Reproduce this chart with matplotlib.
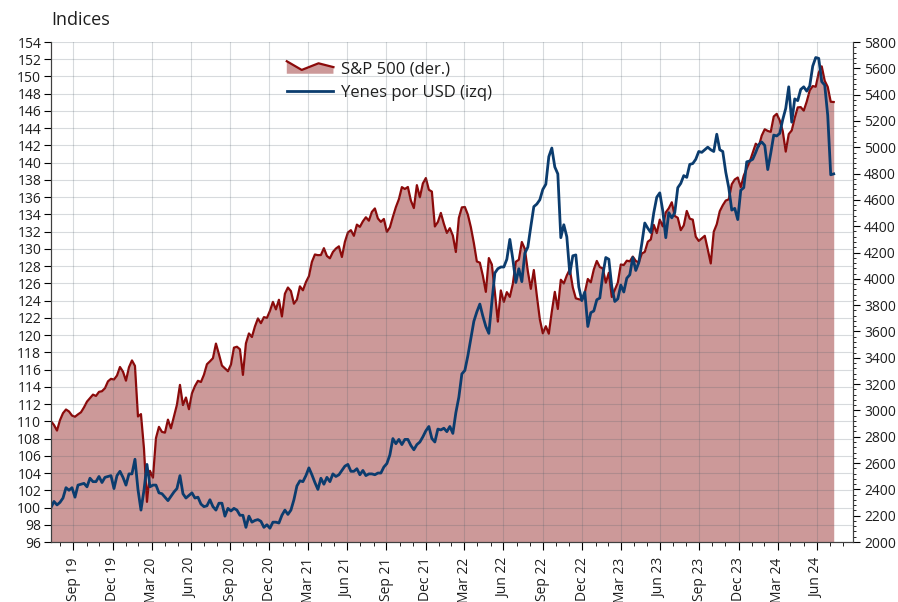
import numpy as np
import pandas as pd
import matplotlib
matplotlib.use("Agg")
import matplotlib.pyplot as plt
import matplotlib.dates as mdates
from matplotlib.ticker import MultipleLocator
from matplotlib.legend_handler import HandlerBase
from matplotlib.patches import Polygon, Patch
from matplotlib.lines import Line2D

plt.rcParams['font.family'] = ['Open Sans', 'DejaVu Sans']

# S&P 500, weekly (Friday) level, right axis
sp_2019 = [2918, 2889, 2847, 2926, 2979, 3007, 2992, 2961, 2952, 2970, 2986, 3023, 3067, 3093,
           3120, 3110, 3141, 3146, 3169, 3221, 3240]
sp_2020 = [3235, 3265, 3330, 3295, 3226, 3328, 3380, 3338, 2954, 2972, 2711, 2305, 2541, 2489,
           2790, 2875, 2837, 2831, 2930, 2864, 2955, 3044, 3194, 3041, 3098, 3009, 3130, 3185,
           3225, 3216, 3271, 3351, 3373, 3397, 3508, 3427, 3341, 3319, 3298, 3348, 3477, 3484,
           3465, 3270, 3510, 3585, 3558, 3638, 3699, 3663, 3709, 3703, 3756]
sp_2021 = [3825, 3768, 3841, 3714, 3887, 3934, 3907, 3811, 3842, 3943, 3913, 3975, 4020, 4129,
           4185, 4180, 4181, 4233, 4174, 4156, 4204, 4230, 4247, 4166, 4281, 4352, 4370, 4327,
           4412, 4395, 4437, 4468, 4442, 4509, 4535, 4459, 4433, 4455, 4357, 4391, 4471, 4545,
           4605, 4697, 4683, 4698, 4595, 4538, 4712, 4620, 4725, 4766]
sp_2022 = [4677, 4663, 4398, 4432, 4501, 4419, 4349, 4385, 4329, 4204, 4463, 4543, 4546, 4488,
           4393, 4272, 4132, 4123, 4024, 3901, 4158, 4109, 3901, 3675, 3912, 3825, 3899, 3863,
           3962, 4130, 4145, 4280, 4228, 4058, 3924, 4067, 3873, 3693, 3586, 3640, 3583, 3752,
           3901, 3771, 3993, 3965, 4026, 4072, 3934, 3852, 3845, 3840]
sp_2023 = [3895, 3999, 3973, 4071, 4136, 4090, 4079, 3970, 4046, 3862, 3917, 3971, 4109, 4105,
           4138, 4133, 4169, 4136, 4124, 4192, 4205, 4282, 4299, 4410, 4348, 4450, 4399, 4505,
           4536, 4582, 4478, 4464, 4370, 4406, 4516, 4457, 4450, 4320, 4288, 4308, 4327, 4224,
           4117, 4358, 4415, 4514, 4559, 4595, 4604, 4719, 4755, 4770]
sp_2024 = [4697, 4784, 4840, 4891, 4959, 5027, 5006, 5089, 5137, 5124, 5117, 5234, 5254, 5204,
           5123, 4967, 5100, 5128, 5223, 5303, 5305, 5278, 5347, 5432, 5465, 5460, 5567, 5615,
           5505, 5459, 5346, 5344]

# Yenes por USD, index (first week = 100), left axis
yen_2019 = [100.0, 100.7, 100.3, 100.6, 101.1, 102.3, 102.0, 102.3, 101.2, 102.6, 102.7, 102.8,
            102.4, 103.4, 103.0, 103.0, 103.6, 102.9, 103.5, 103.6, 103.7]
yen_2020 = [102.2, 103.7, 104.2, 103.5, 102.6, 103.9, 103.9, 105.6, 102.1, 99.7, 102.0, 105.0,
            102.4, 102.6, 102.6, 101.7, 101.6, 101.2, 100.8, 101.3, 101.8, 102.2, 103.7, 101.6,
            101.1, 101.4, 101.7, 101.1, 101.2, 100.4, 100.1, 100.2, 100.9, 100.1, 99.7, 100.5,
            100.5, 99.0, 99.9, 99.6, 99.9, 99.7, 99.1, 99.1, 97.7, 99.0, 98.3, 98.5, 98.6, 98.4,
            97.7, 98.0, 97.6]
yen_2021 = [98.3, 98.3, 98.2, 99.1, 99.7, 99.2, 99.7, 100.9, 102.5, 103.1, 103.0, 103.7, 104.6,
            103.8, 102.9, 102.1, 103.4, 102.7, 103.5, 103.0, 103.9, 103.6, 103.8, 104.3, 104.8,
            105.0, 104.2, 104.2, 104.5, 103.8, 104.3, 103.7, 103.9, 103.9, 103.8, 104.0, 104.0,
            104.7, 105.1, 106.1, 108.0, 107.4, 107.9, 107.3, 107.9, 107.9, 107.2, 106.7, 107.3,
            107.6, 108.2, 108.9]
yen_2022 = [109.4, 108.0, 107.6, 109.1, 109.0, 109.2, 108.8, 109.4, 108.6, 111.0, 112.8, 115.5,
            115.9, 117.6, 119.6, 121.6, 122.7, 123.6, 122.2, 121.0, 120.2, 123.8, 127.2, 127.7,
            127.9, 127.9, 128.8, 131.1, 128.8, 126.1, 127.7, 126.2, 129.5, 130.2, 132.6, 134.9,
            135.2, 135.7, 136.9, 137.5, 140.7, 141.7, 139.5, 138.7, 131.3, 132.8, 131.4, 127.1,
            129.2, 129.3, 125.6, 124.0]
yen_2023 = [125.0, 121.0, 122.6, 122.8, 124.1, 124.3, 127.0, 129.0, 128.8, 125.6, 123.9, 124.2,
            125.8, 125.0, 126.6, 127.0, 129.0, 127.5, 128.4, 130.6, 133.0, 132.4, 131.9, 134.2,
            136.0, 136.5, 134.4, 131.3, 134.2, 133.6, 134.2, 137.1, 137.6, 138.5, 138.3, 139.8,
            139.9, 140.4, 141.3, 141.2, 141.5, 141.8, 141.5, 141.3, 143.3, 141.5, 141.3, 138.9,
            137.1, 134.5, 134.7, 133.4]
yen_2024 = [136.8, 137.1, 140.1, 140.2, 140.4, 141.2, 142.1, 142.4, 142.0, 139.2, 141.1, 143.2,
            143.1, 143.4, 145.0, 146.3, 148.8, 144.7, 147.4, 147.2, 148.5, 148.8, 148.3, 148.9,
            151.2, 152.2, 152.1, 149.4, 149.0, 145.5, 138.6, 138.7]

sp500 = sp_2019 + sp_2020 + sp_2021 + sp_2022 + sp_2023 + sp_2024
yenes = yen_2019 + yen_2020 + yen_2021 + yen_2022 + yen_2023 + yen_2024
dates = pd.date_range('2019-08-09', periods=len(sp500), freq='W-FRI')

red_line = '#8B0A0A'
red_fill = '#CC9999'
blue = '#0B3C6E'
txt = '#1E1E1E'


class AreaHandler(HandlerBase):
    # little area-chart icon like the Excel legend
    def create_artists(self, legend, orig_handle, xdescent, ydescent, width, height, fontsize, trans):
        xs = np.array([0.0, 0.32, 0.68, 1.0]) * width - xdescent
        ys = np.array([0.98, 0.30, 0.82, 0.52]) * height - ydescent
        poly = np.column_stack([np.r_[xs, xs[-1], xs[0]], np.r_[ys, -ydescent, -ydescent]])
        area = Polygon(poly, closed=True, facecolor=red_fill, edgecolor='none', transform=trans)
        edge = Line2D(xs, ys, color=red_line, lw=1.6, transform=trans)
        return [area, edge]


fig = plt.figure(figsize=(8.98, 6.02), dpi=100)
ax = fig.add_axes([51 / 898, 60 / 602, 802 / 898, 500 / 602])
ax2 = ax.twinx()
ax.set_zorder(2)
ax2.set_zorder(1)
ax.patch.set_visible(False)

# S&P 500 area on the right axis
ax2.fill_between(dates, sp500, 2000, color=red_fill, lw=0)
ax2.plot(dates, sp500, color=red_line, lw=1.6)
ax2.set_ylim(2000, 5800)
ax2.yaxis.set_major_locator(MultipleLocator(200))
ax2.yaxis.set_minor_locator(MultipleLocator(40))
ax2.tick_params(axis='y', which='major', direction='out', length=5, labelsize=10, labelcolor=txt, pad=3)
ax2.tick_params(axis='y', which='minor', direction='out', length=2.5)

# yen line on the left axis
ax.plot(dates, yenes, color=blue, lw=2)
ax.set_ylim(96, 154)
ax.yaxis.set_major_locator(MultipleLocator(2))
ax.set_xlim(pd.Timestamp('2019-08-09'), pd.Timestamp('2024-09-23'))
ax.xaxis.set_major_locator(mdates.MonthLocator(bymonth=[3, 6, 9, 12], bymonthday=-1))
ax.xaxis.set_minor_locator(mdates.MonthLocator(bymonthday=-1))
ax.xaxis.set_major_formatter(mdates.DateFormatter('%b %y'))
ax.tick_params(axis='y', direction='out', length=5, labelsize=10, labelcolor=txt, pad=2)
ax.tick_params(axis='x', which='major', direction='out', length=6, labelsize=10,
               labelcolor=txt, labelrotation=90, pad=5)
ax.tick_params(axis='x', which='minor', direction='out', length=3)

ax.set_axisbelow(True)
ax.grid(True, color='#4A5A66', alpha=0.22, lw=0.8)

for a in (ax, ax2):
    a.spines['top'].set_visible(False)
    for s in ('left', 'right', 'bottom'):
        a.spines[s].set_color('#404040')

fig.text(51 / 898, 1 - 25 / 602, 'Indices', fontsize=13, color=txt, ha='left', va='baseline')

handles = [Patch(facecolor=red_fill, edgecolor=red_line),
           Line2D([], [], color=blue, lw=2)]
ax.legend(handles, ['S&P 500 (der.)', 'Yenes por USD (izq)'],
          handler_map={Patch: AreaHandler()}, loc='upper left',
          bbox_to_anchor=(0.294, 0.962), frameon=False, fontsize=12,
          handlelength=2.8, handleheight=0.8, handletextpad=0.45,
          labelspacing=0.45, borderpad=0, borderaxespad=0, labelcolor=txt)

fig.savefig('out.png', dpi=100, facecolor='white')
